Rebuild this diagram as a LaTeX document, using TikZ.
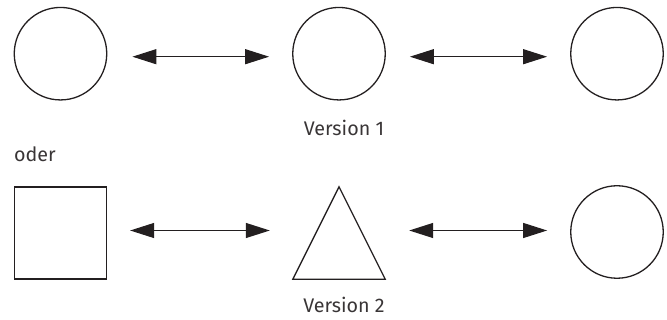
\documentclass[tikz,border=0pt]{standalone}
\usepackage{fontspec}
\setmainfont{Fira Sans}
\usetikzlibrary{arrows.meta}
\definecolor{ink}{HTML}{231F20}
\begin{document}
\begin{tikzpicture}[x=1pt,y=-1pt,
  shp/.style={draw=ink,line width=1.3pt,inner sep=0pt,minimum size=92.5pt},
  circ/.style={shp,circle},
  sqr/.style={shp,rectangle,minimum size=92pt},
  ghost/.style={rectangle,inner sep=0pt,minimum size=92pt},
  arr/.style={draw=ink,line width=1.2pt,{Triangle[length=24pt,width=15pt]}-{Triangle[length=24pt,width=15pt]}},
  lbl/.style={text=ink!90,font=\fontsize{19.7}{23}\selectfont,inner sep=0pt}]
\useasboundingbox (0,0) rectangle (667,320);
% row 1
\node[circ] (c1) at (60.5,53.7) {};
\node[circ] (c2) at (339,53.7) {};
\node[circ] (c3) at (617,53.7) {};
\draw[arr,shorten <=25pt,shorten >=23pt] ([yshift=-3pt]c1.east) -- ([yshift=-3pt]c2.west);
\draw[arr,shorten <=24pt,shorten >=23pt] ([yshift=-3pt]c2.east) -- ([yshift=-3pt]c3.west);
\node[lbl] (v1) at (344,128) {Version 1};
\node[lbl,anchor=west] (oder) at (14,154) {oder};
% row 2
\node[sqr] (sq) at (60.5,233) {};
\node[ghost] (tri) at (339,233) {};
\draw[draw=ink,line width=1.3pt,line join=miter] (tri.north) -- (tri.south east) -- (tri.south west) -- cycle;
\node[circ] (c4) at (617,232) {};
\draw[arr,shorten <=23pt,shorten >=23pt] ([yshift=2.5pt]sq.east) -- ([yshift=2.5pt]tri.west);
\draw[arr,shorten <=24pt,shorten >=23pt] ([yshift=2.5pt]tri.east) -- ([yshift=1.5pt]c4.west);
\node[lbl] (v2) at (344,305) {Version 2};
\end{tikzpicture}
\end{document}
